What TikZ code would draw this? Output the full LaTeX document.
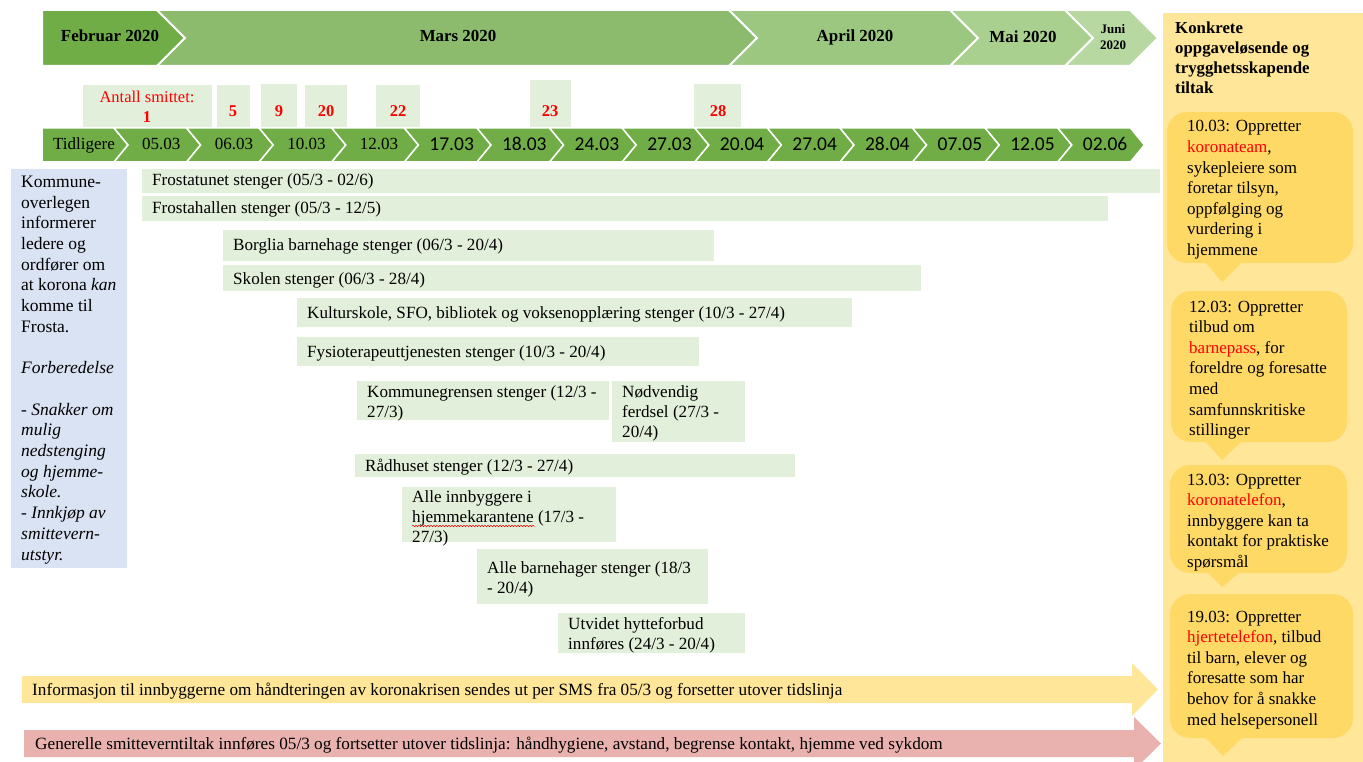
\documentclass[tikz,border=0pt]{standalone}
\usepackage{fontspec}
\setmainfont{Liberation Serif}
\newfontfamily\calfont{Carlito}
\usetikzlibrary{decorations.pathmorphing}

\definecolor{febgreen}{RGB}{112,173,71}
\definecolor{margreen}{RGB}{140,187,110}
\definecolor{aprgreen}{RGB}{156,199,128}
\definecolor{maigreen}{RGB}{169,208,142}
\definecolor{jungreen}{RGB}{184,216,162}
\definecolor{dategreen}{RGB}{112,173,71}
\definecolor{barfill}{RGB}{226,239,218}
\definecolor{infoblue}{RGB}{218,227,243}
\definecolor{panelyellow}{RGB}{255,230,153}
\definecolor{calloutgold}{RGB}{255,217,102}
\definecolor{smsyellow}{RGB}{255,230,153}
\definecolor{rulered}{RGB}{234,178,175}
\definecolor{countred}{RGB}{255,0,0}

\newcommand\hl[1]{\textcolor{countred}{#1}}

% Multi-line nodes below are placed by the baseline of their LAST line.
\begin{document}
\begin{tikzpicture}[x=1pt,y=-1pt,
  month/.style={fill=#1, draw=white, line width=2pt, line join=miter},
  monthtext/.style={font=\fontsize{16.9}{20}\selectfont\bfseries, anchor=base, inner sep=0},
  datechev/.style={fill=dategreen, draw=white, line width=1.5pt, line join=miter},
  serifdate/.style={font=\fontsize{17}{20}\selectfont, anchor=base, inner sep=0},
  sansdate/.style={font=\calfont\fontsize{19.5}{22}\selectfont, anchor=base, inner sep=0},
  countbox/.style={fill=barfill},
  count/.style={font=\fontsize{16.5}{20}\selectfont\bfseries, text=countred, anchor=base, inner sep=0},
  bar/.style={fill=barfill},
  bartext/.style={font=\fontsize{17.1}{20}\selectfont, anchor=base west, inner sep=0, align=left},
  sidetext/.style={font=\fontsize{17.5}{20.7}\selectfont, anchor=base west, inner sep=0, align=left},
  callout/.style={fill=calloutgold},
  callouttext/.style={font=\fontsize{17}{20.6}\selectfont, anchor=base west, inner sep=0, align=left},
  longarrow/.style={fill=#1},
  arrowtext/.style={font=\fontsize{17.2}{20}\selectfont, anchor=base west, inner sep=0}
]
\useasboundingbox (0,0) rectangle (1363,762);
\clip (0,0) rectangle (1363,762);

% ---- months ----
\path[month=febgreen] (42,10) -- (157,10) -- (185,38) -- (157,66) -- (42,66) -- cycle;
\path[month=margreen] (157,10) -- (729,10) -- (757,38) -- (729,66) -- (157,66) -- (185,38) -- cycle;
\path[month=aprgreen] (729,10) -- (950,10) -- (978,38) -- (950,66) -- (729,66) -- (757,38) -- cycle;
\path[month=maigreen] (950,10) -- (1065,10) -- (1093,38) -- (1065,66) -- (950,66) -- (978,38) -- cycle;
\path[month=jungreen] (1065,10) -- (1130,10) -- (1158,38) -- (1130,66) -- (1065,66) -- (1093,38) -- cycle;
\node[monthtext] (feb) at (110,42) {Februar 2020};
\node[monthtext] (mar) at (458,42) {Mars 2020};
\node[monthtext] (apr) at (855,42) {April 2020};
\node[monthtext] (mai) at (1023,43) {Mai 2020};
\node[font=\fontsize{13}{15.5}\selectfont\bfseries, anchor=base, inner sep=0, align=center] (jun) at (1113,49.5) {Juni\\2020};

% ---- number of infected ----
\fill[countbox] (83,85) rectangle (212,128);
\fill[countbox] (217,85) rectangle (250,128);
\fill[countbox] (261,84) rectangle (297,128);
\fill[countbox] (305,85) rectangle (347,128);
\fill[countbox] (376,85) rectangle (420,128);
\fill[countbox] (530,80) rectangle (571,128);
\fill[countbox] (694,84) rectangle (741,128);
\node[count, font=\fontsize{16.5}{20}\selectfont] (lbl) at (147,103) {Antall smittet:};
\node[count] (c1) at (147,123) {1};
\node[count] (c5) at (233,117) {5};
\node[count] (c9) at (279,117) {9};
\node[count] (c20) at (326,117) {20};
\node[count] (c22) at (398,117) {22};
\node[count] (c23) at (550,117) {23};
\node[count] (c28) at (718,117) {28};

% ---- date row ----
\path[datechev] (42,128) -- (114,128) -- (128,145) -- (114,162) -- (42,162) -- cycle;
\foreach \k in {1,...,14} {
  \pgfmathsetmacro\ta{128+72.6*(\k-1)}
  \pgfmathsetmacro\tb{128+72.6*\k}
  \path[datechev] (\ta-14,128) -- (\tb-14,128) -- (\tb,145) -- (\tb-14,162) -- (\ta-14,162) -- (\ta,145) -- cycle;
}
\node[serifdate] (d0) at (84,150) {Tidligere};
\foreach \k/\d in {1/05.03,2/06.03,3/10.03,4/12.03} {
  \node[serifdate] (d\k) at ({128+72.6*\k-39.3},150) {\d};
}
\foreach \k/\d in {5/17.03,6/18.03,7/24.03,8/27.03,9/20.04,10/27.04,11/28.04,12/07.05,13/12.05,14/02.06} {
  \node[sansdate] (d\k) at ({128+72.6*\k-39.3},151) {\d};
}

% ---- left information box ----
\fill[infoblue] (11,169) rectangle (127,568);
\node[sidetext] (info) at (21,560) {Kommune-\\overlegen\\informerer\\ledere og\\ordfører om\\at korona \textit{kan}\\komme til\\Frosta.\\[20.7pt]
\textit{Forberedelse}\\[20.7pt]
\textit{- Snakker om}\\\textit{mulig}\\\textit{nedstenging}\\\textit{og hjemme-}\\\textit{skole.}\\\textit{- Innkjøp av}\\\textit{smittevern-}\\\textit{utstyr.}};

% ---- closures ----
\fill[bar] (142,169) rectangle (1160,193);
\node[bartext] (b1) at (152,186) {Frostatunet stenger (05/3 - 02/6)};
\fill[bar] (142,196) rectangle (1108,221);
\node[bartext] (b2) at (152,214) {Frostahallen stenger (05/3 - 12/5)};
\fill[bar] (223,230) rectangle (714,261);
\node[bartext] (b3) at (233,251) {Borglia barnehage stenger (06/3 - 20/4)};
\fill[bar] (223,265) rectangle (921,291);
\node[bartext] (b4) at (233,284) {Skolen stenger (06/3 - 28/4)};
\fill[bar] (297,298) rectangle (852,327);
\node[bartext] (b5) at (307,318) {Kulturskole, SFO, bibliotek og voksenopplæring stenger (10/3 - 27/4)};
\fill[bar] (297,337) rectangle (699,366);
\node[bartext] (b6) at (307,357) {Fysioterapeuttjenesten stenger (10/3 - 20/4)};
\fill[bar] (357,381) rectangle (609,420);
\node[bartext] (b7) at (367,417) {Kommunegrensen stenger (12/3 -\\27/3)};
\fill[bar] (612,381) rectangle (745,442);
\node[bartext] (b8) at (622,437) {Nødvendig\\ferdsel (27/3 -\\20/4)};
\fill[bar] (355,454) rectangle (795,477);
\node[bartext] (b9) at (365,471) {Rådhuset stenger (12/3 - 27/4)};
\fill[bar] (402,487) rectangle (616,542);
\node[bartext] (b10) at (412,542) {Alle innbyggere i\\hjemmekarantene (17/3 -\\27/3)};
\draw[countred, line width=0.5pt, decorate, decoration={snake, amplitude=0.7pt, segment length=3pt}] (412,526) -- (535,526);
\fill[bar] (477,549) rectangle (708,604);
\node[bartext] (b11) at (487,593) {Alle barnehager stenger (18/3\\- 20/4)};
\fill[bar] (558,613) rectangle (745,653);
\node[bartext] (b12) at (568,649) {Utvidet hytteforbud\\innføres (24/3 - 20/4)};

% ---- ongoing measures ----
\path[longarrow=smsyellow] (22,676) -- (1132,676) -- (1132,663) -- (1158,689.5) -- (1132,716) -- (1132,703) -- (22,703) -- cycle;
\node[arrowtext] (sms) at (32,695) {Informasjon til innbyggerne om håndteringen av koronakrisen sendes ut per SMS fra 05/3 og forsetter utover tidslinja};
\path[longarrow=rulered] (24,730) -- (1134,730) -- (1134,717) -- (1161,743.5) -- (1134,770) -- (1134,757) -- (24,757) -- cycle;
\node[arrowtext] (rules) at (35,749) {Generelle smitteverntiltak innføres 05/3 og fortsetter utover tidslinja: håndhygiene, avstand, begrense kontakt, hjemme ved sykdom};

% ---- right panel ----
\fill[panelyellow] (1163,13) rectangle (1363,762);
\node[font=\fontsize{16.8}{20}\selectfont\bfseries, anchor=base west, inner sep=0, align=left] (title) at (1175,94)
  {Konkrete\\oppgaveløsende og\\trygghetsskapende\\tiltak};

\fill[callout, rounded corners=20pt] (1167,112) rectangle (1353,263);
\fill[callout] (1205,262) -- (1222,282) -- (1242,262) -- cycle;
\node[callouttext] (t1) at (1187,255.6) {10.03: Oppretter\\\hl{koronateam},\\sykepleiere som\\foretar tilsyn,\\oppfølging og\\vurdering i\\hjemmene};

\fill[callout, rounded corners=20pt] (1171,291) rectangle (1347,442);
\fill[callout] (1205,441) -- (1222,460) -- (1242,441) -- cycle;
\node[callouttext] (t2) at (1189,435.6) {12.03: Oppretter\\tilbud om\\\hl{barnepass}, for\\foreldre og foresatte\\med\\samfunnskritiske\\stillinger};

\fill[callout, rounded corners=20pt] (1170,465) rectangle (1347,573);
\fill[callout] (1207,572) -- (1222,587) -- (1240,572) -- cycle;
\node[callouttext] (t3) at (1187,567.4) {13.03: Oppretter\\\hl{koronatelefon},\\innbyggere kan ta\\kontakt for praktiske\\spørsmål};

\fill[callout, rounded corners=20pt] (1170,594) rectangle (1353,738);
\fill[callout] (1205,737) -- (1223,756) -- (1243,737) -- cycle;
\node[callouttext] (t4) at (1187,725) {19.03: Oppretter\\\hl{hjertetelefon}, tilbud\\til barn, elever og\\foresatte som har\\behov for å snakke\\med helsepersonell};
\end{tikzpicture}
\end{document}
